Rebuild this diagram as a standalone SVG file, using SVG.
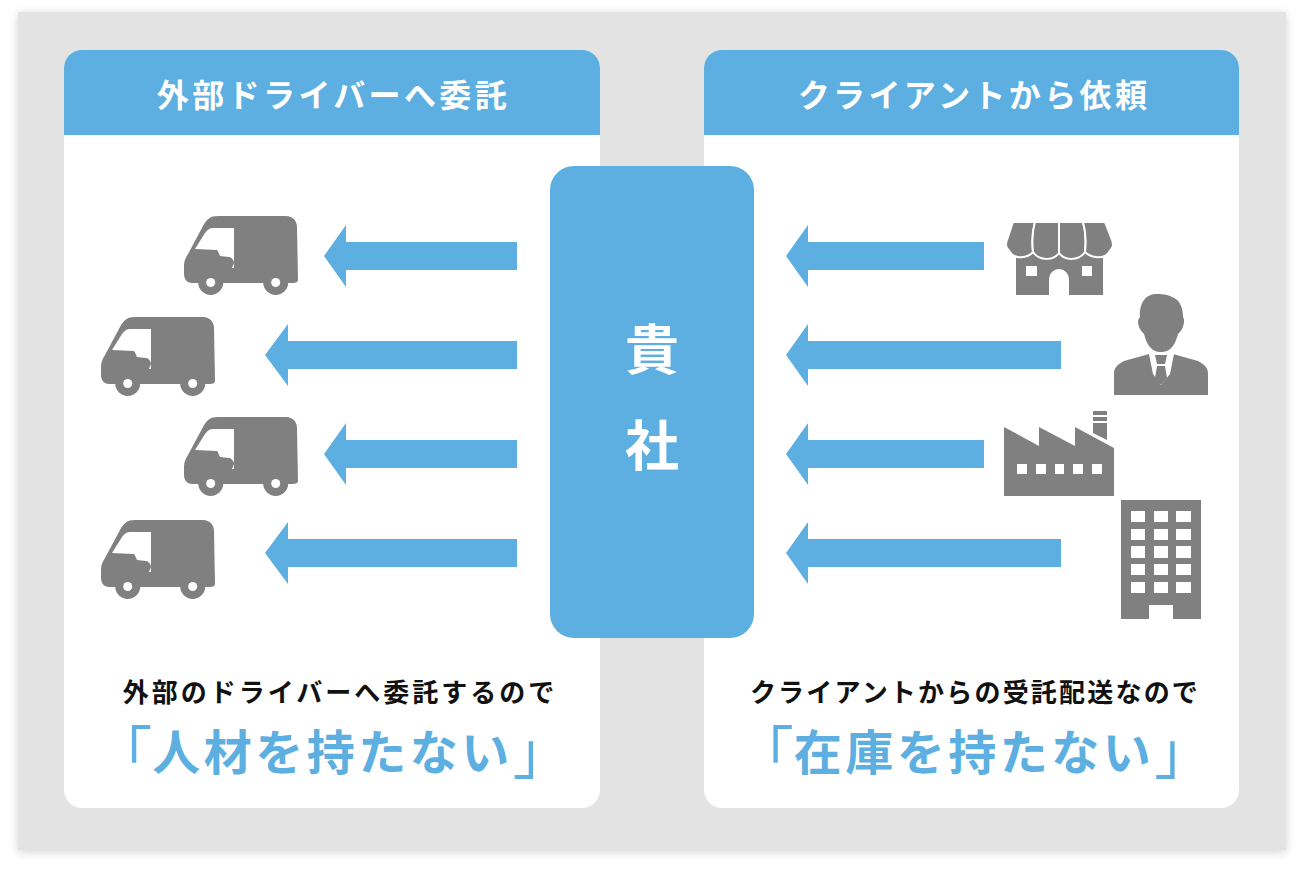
<svg xmlns="http://www.w3.org/2000/svg" width="1304" height="873" viewBox="0 0 1304 873">
<style>
.t{font-family:"Noto Sans CJK JP","Noto Sans",sans-serif;font-weight:700;text-anchor:middle}
.h{font-size:32px;letter-spacing:3.4px;fill:#fff}
.s{font-size:26px;letter-spacing:3px;fill:#111}
.b{font-size:48px;letter-spacing:3.5px;fill:#5cafe0}
.br{font-size:58px;font-weight:400;letter-spacing:0}
.c{font-size:54px;fill:#fff}
.blue{fill:#5cafe0}.g{fill:#808080}.w{fill:#fff}
.aw{fill:#808080;stroke:#fff;stroke-width:2}
</style>
<defs>
<filter id="sh" x="-5%" y="-5%" width="110%" height="110%"><feDropShadow dx="0" dy="2" stdDeviation="5" flood-color="#000" flood-opacity=".18"/></filter>
<g id="truck">
<path class="g" d="M29 0H102C109 0 113 5 113 11L114 64C114 66 112 67 109 67H8C3 67 0 63 0 58V49C0 45 2 41 4 38L19 10C23 3 26 0 34 0Z"/>
<circle class="g" cx="26.700" cy="66.500" r="12.500"/><circle class="g" cx="91.700" cy="66.500" r="12.500"/>
<path class="w" d="M11 33L21 17C24 13 26 12 30 12H50V52L48 52C49 49 50 48 50 46C49 43 47 41 45 41L36 40C35 38 34 35 33 34Z"/>
<circle class="w" cx="26.700" cy="66.500" r="4.500"/><circle class="w" cx="91.700" cy="66.500" r="4.500"/>
</g>
<path id="al" class="blue" d="M0 0L22 -31V-14H193V14H22V31Z"/>
<path id="am" class="blue" d="M0 0L23 -31V-14H252V14H23V31Z"/>
</defs>
<rect id="panel" x="18" y="12" width="1268" height="838" fill="#e3e3e3" filter="url(#sh)"/>
<g id="card-left">
<rect class="w" x="64" y="50" width="536" height="758" rx="18"/>
<path class="blue" d="M64 135V68A18 18 0 0 1 82 50H582A18 18 0 0 1 600 68V135Z"/>
<text class="t h" x="333.500" y="107">外部ドライバーへ委託</text>
<text class="t s" x="340" y="702">外部のドライバーへ委託するので</text>
<text class="t b" x="332.500" y="770"><tspan class="br" dy="4">「</tspan><tspan dy="-4">人材を持たない</tspan><tspan class="br" dy="4">」</tspan></text>
</g>
<g id="card-right">
<rect class="w" x="704" y="50" width="535" height="758" rx="18"/>
<path class="blue" d="M704 135V68A18 18 0 0 1 722 50H1221A18 18 0 0 1 1239 68V135Z"/>
<text class="t h" x="974" y="107">クライアントから依頼</text>
<text class="t s" x="975" y="702" style="letter-spacing:2.2px">クライアントからの受託配送なので</text>
<text class="t b" x="974" y="770"><tspan class="br" dy="4">「</tspan><tspan dy="-4">在庫を持たない</tspan><tspan class="br" dy="4">」</tspan></text>
</g>
<g id="center">
<rect class="blue" x="550" y="166" width="204" height="472" rx="24"/>
<text class="t c" x="652" y="370">貴</text>
<text class="t c" x="652" y="466">社</text>
</g>
<g id="connectors">
<use href="#al" x="324" y="256"/>
<use href="#am" x="265" y="355"/>
<use href="#al" x="324" y="454"/>
<use href="#am" x="265" y="553"/>
<path class="blue" d="M786 256L808 225V242H984V270H808V287Z"/>
<path class="blue" d="M786 355L808 324V341H1061V369H808V386Z"/>
<path class="blue" d="M786 454L808 423V440H984V468H808V485Z"/>
<path class="blue" d="M786 553L808 522V539H1061V567H808V584Z"/>
</g>
<g id="truck-1"><use href="#truck" x="184" y="216"/></g>
<g id="truck-2"><use href="#truck" x="101" y="317"/></g>
<g id="truck-3"><use href="#truck" x="184" y="417"/></g>
<g id="truck-4"><use href="#truck" x="101" y="520"/></g>
<g id="shop">
<path class="g" d="M1016 245H1103V295H1069V279A10 10 0 0 0 1049 279V295H1016Z"/>
<rect class="w" x="1026" y="266" width="11" height="10"/><rect class="w" x="1082" y="266" width="10" height="10"/>
<path class="aw" d="M1013 222H1035C1032 232 1032 243 1033 252C1028 258 1015 260 1010 252C1006 248 1005 245 1007 240Z"/>
<path class="aw" d="M1035 222H1059V253C1053 261 1039 261 1033 252C1032 243 1032 232 1035 222Z"/>
<path class="aw" d="M1059 222H1083C1086 232 1086 243 1085 252C1079 261 1065 261 1059 253Z"/>
<path class="aw" d="M1083 222H1105L1112 240C1114 245 1113 248 1109 252C1104 260 1091 258 1085 252C1086 243 1086 232 1083 222Z"/>
</g>
<g id="person">
<path class="g" d="M1140 317C1139 303 1146 294 1156 294C1160 294 1164 294 1167 295C1169 296 1171 296 1172 297C1178 299 1183 305 1183 317C1185 320 1184 325 1182 329C1180 332 1179 333 1178 334C1176 341 1174 345 1172 347C1169 351 1165 352 1161 352C1157 352 1153 351 1150 347C1148 345 1146 341 1144 334C1143 333 1142 332 1140 329C1138 325 1137 320 1140 317Z"/>
<path class="g" d="M1149 354L1161 385L1173 354L1198 361C1204 364 1208 368 1208 373V395H1114V373C1114 368 1118 364 1124 361Z"/>
<path class="w" d="M1149 354H1174L1170 374L1161 385L1153 374Z"/>
<path class="g" d="M1155 355H1167L1165 364H1157ZM1157 366H1165L1167 378L1161 385L1155 378Z"/>
</g>
<g id="factory">
<path class="g" d="M1004 427L1039 446V427L1075 446V427L1114 448V496H1004Z"/>
<path class="g" d="M1093 411H1107V415H1093ZM1093 417H1107V421H1093ZM1093 423H1107V440L1093 433Z"/>
<rect class="w" x="1017" y="464" width="10" height="10"/><rect class="w" x="1036" y="464" width="10" height="10"/><rect class="w" x="1055" y="464" width="9" height="10"/><rect class="w" x="1073" y="464" width="10" height="10"/><rect class="w" x="1092" y="464" width="10" height="10"/>
</g>
<g id="office">
<path class="g" d="M1121 500H1201V619H1173V605H1149V619H1121Z"/>
<path class="w" d="M1131 511h14v11h-14zM1154 511h14v11h-14zM1176 511h15v11h-15zM1131 529h14v11h-14zM1154 529h14v11h-14zM1176 529h15v11h-15zM1131 546h14v12h-14zM1154 546h14v12h-14zM1176 546h15v12h-15zM1131 564h14v11h-14zM1154 564h14v11h-14zM1176 564h15v11h-15zM1131 582h14v11h-14zM1154 582h14v11h-14zM1176 582h15v11h-15z"/>
</g>
</svg>
